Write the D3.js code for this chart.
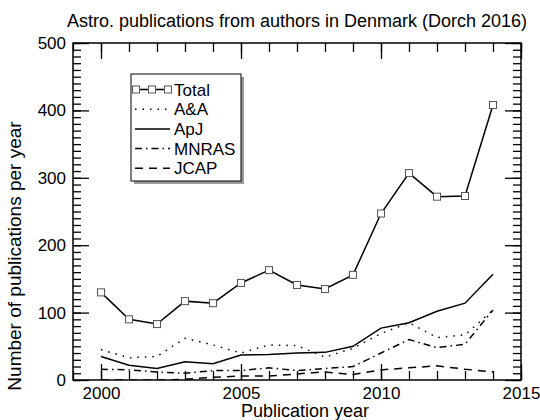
<!DOCTYPE html>
<html>
<head>
<meta charset="utf-8">
<script src="https://cdn.jsdelivr.net/npm/d3@7"></script>
<style>
  body { margin: 0; background: #fff; }
  svg text { font-family: "Liberation Sans", Arial, Helvetica, sans-serif; fill: #000; }
</style>
</head>
<body>
<div id="chart"></div>
<script>
// Data (publications per year)
const years = [2000, 2001, 2002, 2003, 2004, 2005, 2006, 2007, 2008, 2009, 2010, 2011, 2012, 2013, 2014];
const total = [130, 90, 83, 117, 114, 144, 163, 141, 135, 156, 247, 307, 272, 273, 408];
const aanda = [45, 33, 35, 62, 52, 40, 52, 51, 34, 47, 69, 85, 63, 67, 104];
const apj = [35, 22, 17, 27, 24, 37, 38, 40, 41, 50, 77, 85, 102, 114, 157];
const mnras = [16, 15, 12, 10, 14, 14, 18, 14, 17, 20, 40, 60, 48, 53, 104];
const jcap = [0, 0, 0, 1, 4, 6, 6, 9, 12, 8, 15, 18, 21, 16, 12];

const xTicks = [2000, 2005, 2010, 2015];
const yTicks = [0, 100, 200, 300, 400, 500];

const width = 540;
const height = 420;
const margin = { top: 43, right: 19, bottom: 40, left: 73 };

const svg = d3.select('#chart').append('svg')
  .attr('width', width)
  .attr('height', height);

const x = d3.scaleLinear().domain([1999, 2015]).range([margin.left, width - margin.right]);
const y = d3.scaleLinear().domain([0, 500]).range([height - margin.bottom, margin.top]);

const x0 = x.range()[0], x1 = x.range()[1];
const y0 = y.range()[0], y1 = y.range()[1];

// ticks point inward on all four sides, like the original IDL plot
const addAxis = (axis, transform, labels) => {
  const g = svg.append('g').attr('transform', transform).call(axis);
  g.select('.domain').remove();
  g.selectAll('line').attr('stroke', '#000').attr('stroke-width', 1.3);
  if (!labels) g.selectAll('text').remove();
  return g;
};

// minor ticks
addAxis(d3.axisBottom(x).tickValues(d3.range(1999, 2016)).tickSize(-9), `translate(0,${y0})`, false);
addAxis(d3.axisTop(x).tickValues(d3.range(1999, 2016)).tickSize(-9), `translate(0,${y1})`, false);
addAxis(d3.axisLeft(y).tickValues(d3.range(0, 501, 10)).tickSize(-8), `translate(${x0},0)`, false);
addAxis(d3.axisRight(y).tickValues(d3.range(0, 501, 10)).tickSize(-8), `translate(${x1},0)`, false);

// major ticks
const xb = addAxis(d3.axisBottom(x).tickValues(xTicks).tickSize(-16).tickPadding(7).tickFormat(d3.format('d')), `translate(0,${y0})`, true);
addAxis(d3.axisTop(x).tickValues(xTicks).tickSize(-16), `translate(0,${y1})`, false);
const yl = addAxis(d3.axisLeft(y).tickValues(yTicks).tickSize(-16).tickPadding(7), `translate(${x0},0)`, true);
addAxis(d3.axisRight(y).tickValues(yTicks).tickSize(-16), `translate(${x1},0)`, false);

xb.selectAll('text').attr('font-size', 17).attr('font-family', null);
yl.selectAll('text').attr('font-size', 17).attr('font-family', null);

// frame
svg.append('rect')
  .attr('x', x0).attr('y', y1)
  .attr('width', x1 - x0).attr('height', y0 - y1)
  .attr('fill', 'none').attr('stroke', '#000').attr('stroke-width', 1.5);

// titles
svg.append('text')
  .attr('x', (x0 + x1) / 2).attr('y', 27)
  .attr('text-anchor', 'middle').attr('font-size', 18)
  .text('Astro. publications from authors in Denmark (Dorch 2016)');

svg.append('text')
  .attr('x', (x0 + x1) / 2 + 8).attr('y', 417)
  .attr('text-anchor', 'middle').attr('font-size', 18)
  .text('Publication year');

svg.append('text')
  .attr('transform', `translate(21,256) rotate(-90)`)
  .attr('text-anchor', 'middle').attr('font-size', 19)
  .text('Number of publications per year');

// series
svg.append('clipPath').attr('id', 'plotclip')
  .append('rect').attr('x', x0).attr('y', y1).attr('width', x1 - x0).attr('height', y0 - y1);

const series = [
  { name: 'Total', values: total, dash: null, marker: true },
  { name: 'A&A', values: aanda, dash: '1.5,6', marker: false },
  { name: 'ApJ', values: apj, dash: null, marker: false },
  { name: 'MNRAS', values: mnras, dash: '7,4,1.5,4', marker: false },
  { name: 'JCAP', values: jcap, dash: '8,6', marker: false }
];

const line = d3.line()
  .x((d, i) => x(years[i]))
  .y(d => y(d));

const plot = svg.append('g').attr('clip-path', 'url(#plotclip)');

series.forEach(s => {
  plot.append('path')
    .datum(s.values)
    .attr('d', line)
    .attr('fill', 'none')
    .attr('stroke', '#000')
    .attr('stroke-width', 1.5)
    .attr('stroke-dasharray', s.dash);
});

const drawMarker = (g, cx, cy) => {
  g.append('rect')
    .attr('x', cx - 3.5).attr('y', cy - 3.5)
    .attr('width', 7).attr('height', 7)
    .attr('fill', '#fff').attr('stroke', '#555').attr('stroke-width', 1);
};

years.forEach((yr, i) => drawMarker(svg, x(yr), y(total[i])));

// legend
const leg = { x: 131, y: 74, w: 110, h: 107, rowH: 19.7, first: 89.5 };
svg.append('rect')
  .attr('x', leg.x + 3).attr('y', leg.y + 3).attr('width', leg.w).attr('height', leg.h)
  .attr('fill', '#999');
svg.append('rect')
  .attr('x', leg.x).attr('y', leg.y).attr('width', leg.w).attr('height', leg.h)
  .attr('fill', '#fff').attr('stroke', '#000').attr('stroke-width', 1);

series.forEach((s, i) => {
  const ly = leg.first + i * leg.rowH;
  svg.append('line')
    .attr('x1', leg.x + 4).attr('x2', leg.x + 39)
    .attr('y1', ly).attr('y2', ly)
    .attr('stroke', '#000').attr('stroke-width', 1.5)
    .attr('stroke-dasharray', s.dash);
  if (s.marker) {
    [leg.x + 5, leg.x + 21, leg.x + 37].forEach(mx => drawMarker(svg, mx, ly));
  }
  svg.append('text')
    .attr('x', leg.x + 43).attr('y', ly)
    .attr('dy', '0.36em')
    .attr('font-size', 17)
    .text(s.name);
});
</script>
</body>
</html>
